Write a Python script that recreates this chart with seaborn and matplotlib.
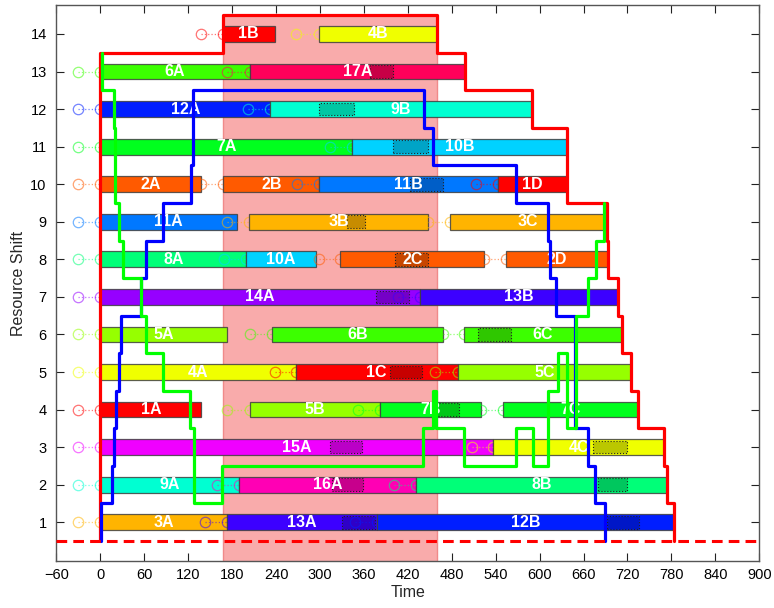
import colorsys
import matplotlib
matplotlib.use("Agg")
import matplotlib.pyplot as plt
from matplotlib.patches import Rectangle
import seaborn as sns

# operations on each resource shift (row): label, job, ready time, start, end
op_labels = ["1B", "4B",
             "6A", "17A",
             "12A", "9B",
             "7A", "10B",
             "2A", "2B", "11B", "1D",
             "11A", "3B", "3C",
             "8A", "10A", "2C", "2D",
             "14A", "13B",
             "5A", "6B", "6C",
             "4A", "1C", "5C",
             "1A", "5B", "7B", "7C",
             "15A", "4C",
             "9A", "16A", "8B",
             "3A", "13A", "12B"]
op_rows = [14, 14,
           13, 13,
           12, 12,
           11, 11,
           10, 10, 10, 10,
           9, 9, 9,
           8, 8, 8, 8,
           7, 7,
           6, 6, 6,
           5, 5, 5,
           4, 4, 4, 4,
           3, 3,
           2, 2, 2,
           1, 1, 1]
op_jobs = [1, 4,
           6, 17,
           12, 9,
           7, 10,
           2, 2, 11, 1,
           11, 3, 3,
           8, 10, 2, 2,
           14, 13,
           5, 6, 6,
           4, 1, 5,
           1, 5, 7, 7,
           15, 4,
           9, 16, 8,
           3, 13, 12]
op_ready = [137, 267,
            -30, 173,
            -30, 202,
            -30, 314,
            -30, 138, 268, 513,
            -30, 173, 448,
            -30, 169, 299, 524,
            -30, 406,
            -30, 204, 468,
            -30, 238, 457,
            -30, 173, 352, 520,
            -30, 507,
            -30, 159, 401,
            -30, 143, 348]
op_start = [167, 298,
            0, 204,
            0, 232,
            0, 344,
            0, 168, 299, 543,
            0, 203, 477,
            0, 199, 328, 554,
            0, 436,
            0, 234, 497,
            0, 267, 488,
            0, 204, 382, 550,
            0, 537,
            0, 190, 431,
            0, 173, 378]
op_end = [238, 460,
          204, 498,
          232, 590,
          344, 637,
          138, 299, 543, 638,
          187, 448, 692,
          199, 294, 524, 694,
          436, 707,
          173, 468, 712,
          267, 488, 725,
          138, 382, 520, 734,
          537, 770,
          190, 431, 774,
          173, 378, 784]

# darker dotted blocks inside some operations
dk_rows = [13, 12, 11, 10, 9, 8, 7, 6, 5, 4, 3, 3, 2, 2, 1, 1]
dk_jobs = [17, 9, 10, 11, 3, 2, 14, 6, 1, 7, 15, 4, 16, 8, 13, 12]
dk_start = [368, 299, 400, 423, 337, 403, 376, 516, 395, 453, 314, 673, 316, 680, 330, 692]
dk_end = [400, 346, 447, 468, 362, 447, 421, 561, 439, 490, 358, 720, 359, 720, 375, 736]

window_start, window_end = 167, 460

blue_t = [1, 1, 16, 16, 19, 19, 21.5, 21.5, 25.5, 25.5, 28.5, 28.5, 55.5, 55.5,
          62.6, 62.6, 85, 85, 123.5, 123.5, 127, 127, 442, 442, 454, 454, 568, 568,
          612, 612, 614, 614, 623, 623, 648, 648, 666, 666, 676, 676, 690, 690]
blue_y = [0.5, 1.5, 1.5, 2.5, 2.5, 3.5, 3.5, 4.5, 4.5, 5.5, 5.5, 6.5, 6.5, 7.5,
          7.5, 8.5, 8.5, 9.5, 9.5, 10.5, 10.5, 12.5, 12.5, 11.5, 11.5, 10.5, 10.5, 9.5,
          9.5, 8.5, 8.5, 7.5, 7.5, 6.5, 6.5, 3.5, 3.5, 2.5, 2.5, 1.5, 1.5, 0.5]

green_t = [2, 2, 18.7, 18.7, 20, 20, 26, 26, 30.6, 30.6, 55.6, 55.6, 62.4, 62.4,
           86, 86, 122.5, 122.5, 128, 128, 166.6, 166.6, 441, 441, 454, 454,
           458.5, 458.5, 497, 497, 568, 568, 591, 591, 612, 612, 625, 625, 637, 637,
           649.4, 649.4, 666.6, 666.6, 677, 677, 688.4, 688.4]
green_y = [13.5, 12.5, 12.5, 11.5, 11.5, 9.5, 9.5, 8.5, 8.5, 7.5, 7.5, 6.5, 6.5, 5.5,
           5.5, 4.5, 4.5, 3.5, 3.5, 1.5, 1.5, 2.5, 2.5, 3.5, 3.5, 4.5,
           4.5, 3.5, 3.5, 2.5, 2.5, 3.5, 3.5, 2.5, 2.5, 4.5, 4.5, 5.5, 5.5, 3.5,
           3.5, 6.5, 6.5, 7.5, 7.5, 8.5, 8.5, 9.5]

n_jobs = 17
n_rows = 14


def job_color(j):
    return colorsys.hsv_to_rgb((j - 1) / n_jobs, 1, 1)


sns.set_style("ticks")
plt.rcParams['font.family'] = ['Liberation Sans', 'DejaVu Sans']

fig = plt.figure(figsize=(7.74, 6.08), dpi=100)
ax = fig.add_axes([0.0729, 0.0768, 0.908, 0.9155])

# highlighted time window
ax.add_patch(Rectangle((window_start, -1), window_end - window_start, 15.5,
                       facecolor='#f9abab', edgecolor='#f08a8a', lw=1, zorder=1))

bar_h = 0.42
for i in range(len(op_labels)):
    c = job_color(op_jobs[i])
    r = op_rows[i]
    ax.plot([op_ready[i], op_start[i]], [r, r], ls=':', color=c, alpha=0.55, lw=0.9,
            marker='o', ms=7.5, mfc='none', mew=0.9, zorder=3)
    ax.barh(r, op_end[i] - op_start[i], left=op_start[i], height=bar_h, color=c,
            edgecolor=(0.25, 0.25, 0.25, 0.85), lw=0.9, zorder=3)
    for k in range(len(dk_rows)):
        if dk_rows[k] == r and dk_jobs[k] == op_jobs[i] and op_start[i] <= dk_start[k] < op_end[i]:
            dc = tuple(v * 0.78 for v in c)
            ax.barh(r, dk_end[k] - dk_start[k], left=dk_start[k], height=bar_h * 0.8,
                    color=dc, edgecolor='#222222', ls=':', lw=0.8, zorder=3)
    ax.text((op_start[i] + op_end[i]) / 2, r, op_labels[i], color='white',
            fontsize=11.5, fontweight='bold', ha='center', va='center', zorder=5)

# red envelope from the first start and last end on every row
left = [min(s for s, rr in zip(op_start, op_rows) if rr == r) for r in range(1, n_rows + 1)]
right = [max(e for e, rr in zip(op_end, op_rows) if rr == r) for r in range(1, n_rows + 1)]
red_t, red_y = [], []
for r in range(1, n_rows + 1):
    red_t += [left[r - 1], left[r - 1]]
    red_y += [r - 0.5, r + 0.5]
for r in range(n_rows, 0, -1):
    red_t += [right[r - 1], right[r - 1]]
    red_y += [r + 0.5, r - 0.5]

sns.lineplot(x=red_t, y=red_y, sort=False, estimator=None, color='red', lw=2.3, ax=ax, zorder=6)
sns.lineplot(x=blue_t, y=blue_y, sort=False, estimator=None, color='blue', lw=2.3, ax=ax, zorder=6)
sns.lineplot(x=green_t, y=green_y, sort=False, estimator=None, color='lime', lw=2.3, ax=ax, zorder=6)
ax.axhline(0.5, color='red', ls='--', lw=2.2, dashes=(3.5, 2), zorder=6)

ax.set_xlim(-60, 900)
ax.set_ylim(-0.04, 14.78)
ax.set_xticks(range(-60, 901, 60))
ax.set_yticks(range(1, n_rows + 1))
ax.tick_params(direction='in', top=True, right=True, length=5.5, width=0.8,
               labelsize=10.5, colors='#222222', labelcolor='black')
ax.tick_params(axis='y', pad=7)
ax.tick_params(axis='x', pad=5)
for s in ax.spines.values():
    s.set_color('#555555')
    s.set_linewidth(1)
ax.set_xlabel("Time", fontsize=11.5, labelpad=2)
ax.set_ylabel("Resource Shift", fontsize=11.5, labelpad=3)

fig.savefig("out.png", dpi=100)
